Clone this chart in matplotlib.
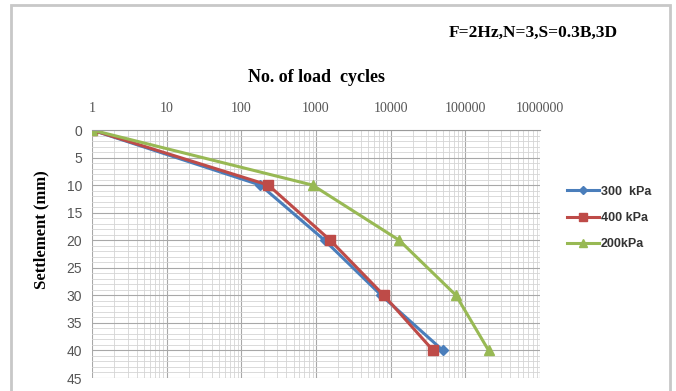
import matplotlib.pyplot as plt
from matplotlib.ticker import LogLocator, FixedLocator, FixedFormatter, MultipleLocator
from matplotlib.patches import Rectangle

# settlement levels (mm) and cycles needed to reach them
asentamiento = [0, 10, 20, 30, 40]
ciclos_300 = [1, 180, 1300, 7500, 50000]
ciclos_400 = [1, 230, 1550, 8100, 37000]
ciclos_200 = [1, 900, 13000, 75000, 205000]

etiquetas_x = ['1', '10', '100', '1000', '10000', '100000', '1000000']
posiciones_x = [1, 10, 100, 1000, 10000, 100000, 1000000]

fig = plt.figure(figsize=(6.76, 3.91), dpi=100)
fig.patches.append(Rectangle((11 / 676, -0.05), 659 / 676, 0.05 + (391 - 5) / 391,
                             transform=fig.transFigure, fill=False,
                             edgecolor='#c8c8c8', linewidth=2))

ax = fig.add_axes([92 / 676, 13 / 391, 448 / 676, 248 / 391])

ax.plot(ciclos_300, asentamiento, color='#4a7ebb', marker='D', markersize=5,
        linewidth=2.2, label='300  kPa')
ax.plot(ciclos_400, asentamiento, color='#be4b48', marker='s', markersize=7.5,
        linewidth=2.2, label='400 kPa')
ax.plot(ciclos_200, asentamiento, color='#98b954', marker='^', markersize=6.5,
        linewidth=2.2, label='200kPa')

ax.set_xscale('log')
ax.set_xlim(1, 1e6)
ax.set_ylim(45, 0)
ax.xaxis.set_major_locator(FixedLocator(posiciones_x))
ax.xaxis.set_major_formatter(FixedFormatter(etiquetas_x))
ax.xaxis.set_minor_locator(LogLocator(base=10, subs=range(2, 10), numticks=20))
ax.yaxis.set_major_locator(MultipleLocator(5))
ax.yaxis.set_minor_locator(MultipleLocator(1))
ax.xaxis.tick_top()
ax.xaxis.set_label_position('top')

ax.grid(which='major', color='#a8a8a8', linewidth=0.8)
ax.grid(which='minor', color='#d4d4d4', linewidth=0.6)
ax.set_axisbelow(True)

for lado in ['right', 'bottom', 'left']:
    ax.spines[lado].set_visible(False)
ax.spines['top'].set_color('#9a9a9a')
ax.tick_params(which='both', length=0)
ax.tick_params(axis='x', which='major', labelsize=10, labelcolor='#555555', pad=11)
ax.tick_params(axis='y', which='major', labelsize=10, labelcolor='#555555', pad=7)
for t in ax.get_xticklabels():
    t.set_family('Liberation Serif')
for t in ax.get_yticklabels():
    t.set_family('Liberation Sans')

ax.set_xlabel('No. of load  cycles', fontsize=13, fontweight='bold',
              family='Liberation Serif', labelpad=14)
ax.set_ylabel('Settlement (mm)', fontsize=12, fontweight='bold',
              family='Liberation Serif')
ax.yaxis.set_label_coords(-0.094, (378 - 230) / 248)

fig.text(533 / 676, 1 - 33 / 391, 'F=2Hz,N=3,S=0.3B,3D', fontsize=12.5,
         fontweight='bold', family='Liberation Serif', ha='center', va='center')

ax.legend(loc='center left', bbox_to_anchor=(1.06, (378 - 218) / 248), frameon=False,
          borderpad=0, borderaxespad=0, handlelength=2.6, handletextpad=0.1,
          labelspacing=1.15, markerscale=0.8,
          prop={'family': 'Liberation Sans', 'size': 9, 'weight': 'bold'},
          labelcolor='#333333')

fig.savefig('out.png', dpi=100)
